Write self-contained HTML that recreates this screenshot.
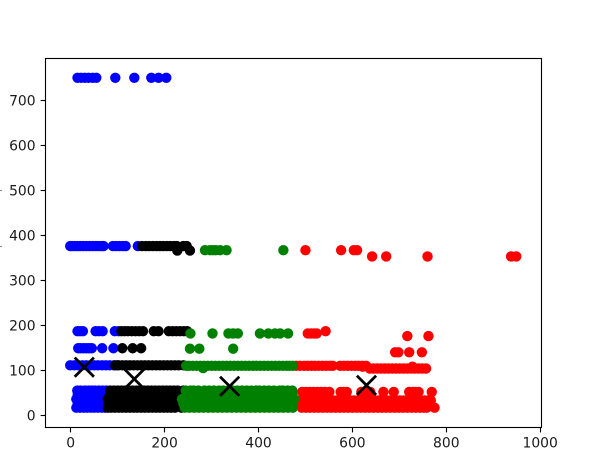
<!DOCTYPE html>
<html lang="en">
<head>
<meta charset="utf-8">
<title>Cluster scatter chart</title>
<style>
html,body{margin:0;padding:0;background:#fff;}
svg{display:block;}
text{font-family:"DejaVu Sans",sans-serif;font-size:13.89px;fill:#1a1a1a;}
</style>
</head>
<body>
<svg id="chart" width="605" height="453" viewBox="0 0 605 453" xmlns="http://www.w3.org/2000/svg">
  <rect x="0" y="0" width="605" height="453" fill="#fff"/>
  <rect x="0" y="190" width="2" height="1" fill="#888"/>
  <rect x="0" y="246" width="2" height="1" fill="#888"/>
  <g id="points"></g>
  <g id="centroids"></g>
  <g id="axes"></g>
</svg>
<script>
const xTicks = [0, 200, 400, 600, 800, 1000];
const yTicks = [0, 100, 200, 300, 400, 500, 600, 700];

const redRowValues = [367, 353, 187, 182, 176, 140, 110, 104, 108, 52, 33, 25, 17];
const redRowXs = [
  [500, 576, 603, 610],
  [642, 672, 760, 938, 949],
  [543],
  [505, 512, 518, 524],
  [717, 762],
  [691, 698, 721, 748],
  [480, 488, 497, 505, 513, 520, 528, 536, 544, 552, 558, 574, 582, 590, 598, 606, 613, 621, 629],
  [637, 645, 653, 661, 669, 677, 685, 693, 701, 709, 717, 725, 733, 741, 749, 757],
  [622, 728],
  [493, 501, 509, 517, 525, 533, 541, 551, 575, 582, 588, 619, 628, 638, 666, 688, 721, 729, 735, 741, 769],
  [490, 498, 507, 516, 524, 533, 542, 551, 560, 568, 577, 586, 595, 604, 612, 621, 630, 639, 648, 657, 665, 674, 683, 692, 701, 709, 718, 727, 736, 745, 754, 761, 767],
  [492, 510, 528, 546, 564, 582, 600, 618, 636, 654, 672, 690, 708, 726, 744, 755],
  [492, 501, 510, 519, 528, 537, 546, 555, 564, 573, 582, 591, 600, 609, 618, 627, 636, 645, 654, 663, 672, 681, 690, 699, 708, 717, 726, 735, 744, 752, 758, 775]
];

const blueRowValues = [750, 376, 187, 149, 111, 55, 46, 36, 26, 17];
const blueRowXs = [
  [14.5, 22, 30, 38, 47, 54.5, 95, 135.5, 171.7, 187, 203.6],
  [-1, 3, 8, 14, 20, 26, 33, 40, 47, 54, 60, 66, 70, 90, 97, 104, 111, 117, 143],
  [14.5, 20, 26, 53, 60, 68, 94, 102],
  [16, 21, 27, 33, 39, 45, 67, 91],
  [-1, 8, 16, 25, 33, 42, 50, 58, 67, 75, 83, 92, 100],
  [14, 21, 30, 38, 45, 52, 60, 68, 76],
  [15, 30, 45, 60, 74],
  [12, 20, 27, 35, 42, 50, 57, 65, 73],
  [15, 30, 45, 60, 73],
  [12, 20, 28, 35, 43, 50, 58, 66, 73]
];

const blackRowValues = [376, 366, 187, 149, 111, 55, 46, 36, 26, 17];
const blackRowXs = [
  [152, 160, 167, 175, 183, 190, 197, 205, 212, 220, 226, 240, 247],
  [227, 254],
  [108, 115, 122, 130, 138, 146, 154, 177, 187, 209, 217, 225, 233, 241, 248],
  [110, 132, 150],
  [95, 102, 110, 118, 126, 134, 142, 150, 158, 166, 174, 182, 190, 198, 206, 214, 222, 230, 240],
  [84, 92, 100, 108, 116, 124, 132, 140, 148, 156, 164, 172, 180, 188, 196, 204, 212, 220, 228, 240],
  [84, 100, 116, 132, 148, 164, 180, 196, 212, 228],
  [79, 86, 94, 102, 110, 118, 126, 134, 142, 150, 158, 166, 174, 182, 190, 198, 206, 214, 222, 232],
  [80, 98, 114, 130, 146, 162, 178, 194, 210, 226],
  [79, 86, 94, 102, 110, 118, 126, 134, 142, 150, 158, 166, 174, 182, 190, 198, 206, 214, 222, 236]
];

const greenRowValues = [367, 182, 148, 110, 105, 55, 46, 36, 26, 17];
const greenRowXs = [
  [286, 297, 303, 309, 318, 332, 453],
  [255, 302, 336, 346, 356, 403, 421, 435, 446, 463],
  [254, 274, 346],
  [246, 252, 260, 268, 276, 284, 292, 300, 308, 316, 324, 332, 340, 348, 356, 364, 372, 380, 388, 396, 404, 412, 420, 428, 436, 444, 452, 460, 466, 473],
  [282],
  [245, 255, 262, 272, 285, 295, 305, 316, 325, 335, 345, 355, 365, 375, 385, 395, 402, 412, 422, 433, 445, 452, 462, 472],
  [250, 266, 282, 298, 314, 330, 346, 362, 378, 394, 410, 426, 442, 458, 472],
  [237, 247, 257, 267, 277, 287, 297, 307, 317, 327, 337, 347, 357, 367, 377, 387, 397, 407, 417, 427, 437, 447, 457, 467, 476],
  [240, 256, 272, 288, 304, 320, 336, 352, 368, 384, 400, 416, 432, 448, 464, 472],
  [243, 253, 263, 273, 283, 293, 303, 313, 323, 333, 343, 353, 363, 373, 383, 393, 403, 413, 423, 433, 443, 453, 463, 473]
];

const centroidXs = [29, 135.5, 338.6, 630];
const centroidYs = [107, 80.6, 64.5, 66.7];

const NS = 'http://www.w3.org/2000/svg';
const xScale = v => 70.7 + v * 0.4695;
const yScale = v => 415.3 - v * 0.45;
const snap = p => Math.floor(p) + 0.5;
const pointsGroup = document.getElementById('points');
const centroidsGroup = document.getElementById('centroids');
const axesGroup = document.getElementById('axes');

function drawCluster(rowValues, rowXs, color) {
  rowValues.forEach(function (rowValue, i) {
    rowXs[i].forEach(function (xValue) {
      const dot = document.createElementNS(NS, 'circle');
      
      
      dot.setAttribute('cx', xScale(xValue).toFixed(2));
      dot.setAttribute('cy', yScale(rowValue).toFixed(2));
      dot.setAttribute('r', '5.2');
      dot.setAttribute('fill', color);
      pointsGroup.appendChild(dot);
    });
  });
}
drawCluster(redRowValues, redRowXs, 'red');
drawCluster(blueRowValues, blueRowXs, 'blue');
drawCluster(blackRowValues, blackRowXs, 'black');
drawCluster(greenRowValues, greenRowXs, 'green');

centroidXs.forEach(function (xValue, i) {
  const cx = xScale(xValue);
  const cy = yScale(centroidYs[i]);
  const h = 9.6;
  const mark = document.createElementNS(NS, 'path');
  
  
  mark.setAttribute('d', 'M' + (cx - h) + ' ' + (cy - h) + 'L' + (cx + h) + ' ' + (cy + h) + 'M' + (cx - h) + ' ' + (cy + h) + 'L' + (cx + h) + ' ' + (cy - h));
  mark.setAttribute('stroke', '#000');
  mark.setAttribute('stroke-width', '2.78');
  mark.setAttribute('fill', 'none');
  centroidsGroup.appendChild(mark);
});

const frame = document.createElementNS(NS, 'rect');


frame.setAttribute('x', '45.5');
frame.setAttribute('y', '58.5');
frame.setAttribute('width', '496');
frame.setAttribute('height', '369');
frame.setAttribute('fill', 'none');
frame.setAttribute('stroke', '#000');
frame.setAttribute('stroke-width', '1.11');
axesGroup.appendChild(frame);

xTicks.forEach(function (tick) {
  const px = snap(xScale(tick));
  const line = document.createElementNS(NS, 'line');
  
  
  line.setAttribute('x1', px);
  line.setAttribute('x2', px);
  line.setAttribute('y1', '427.5');
  line.setAttribute('y2', '432.4');
  line.setAttribute('stroke', '#000');
  line.setAttribute('stroke-width', '1.11');
  axesGroup.appendChild(line);
  const label = document.createElementNS(NS, 'text');
  
  
  label.setAttribute('x', xScale(tick).toFixed(2));
  label.setAttribute('y', '447.5');
  label.setAttribute('text-anchor', 'middle');
  label.textContent = tick;
  axesGroup.appendChild(label);
});

yTicks.forEach(function (tick) {
  const py = snap(yScale(tick));
  const line = document.createElementNS(NS, 'line');
  
  
  line.setAttribute('x1', '40.6');
  line.setAttribute('x2', '45.5');
  line.setAttribute('y1', py);
  line.setAttribute('y2', py);
  line.setAttribute('stroke', '#000');
  line.setAttribute('stroke-width', '1.11');
  axesGroup.appendChild(line);
  const label = document.createElementNS(NS, 'text');
  
  
  label.setAttribute('x', '35.6');
  label.setAttribute('y', (yScale(tick) + 5).toFixed(2));
  label.setAttribute('text-anchor', 'end');
  label.textContent = tick;
  axesGroup.appendChild(label);
});
</script>
</body>
</html>
